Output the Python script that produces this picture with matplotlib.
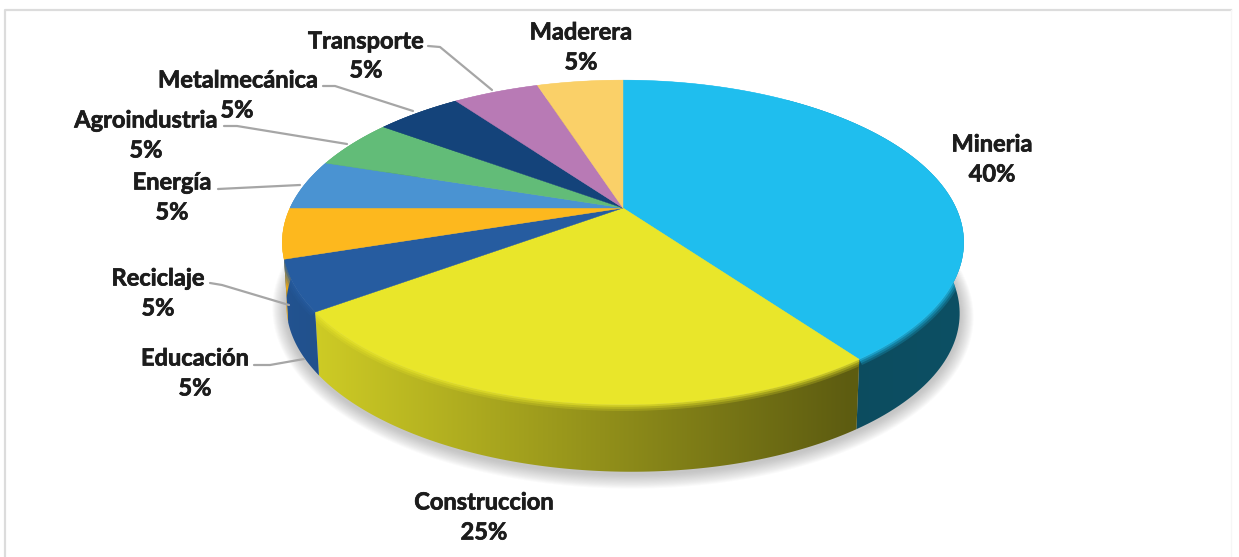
import numpy as np
import matplotlib
matplotlib.use('Agg')
import matplotlib.pyplot as plt
import matplotlib.patheffects as pe
from matplotlib.colors import to_rgb
from matplotlib.patches import Polygon

categories = ['Mineria', 'Construccion', 'Educación', 'Reciclaje', 'Energía',
              'Agroindustria', 'Metalmecánica', 'Transporte', 'Maderera']
values = [40, 25, 5, 5, 5, 5, 5, 5, 5]
colors = ['#1FBEEE', '#E9E62A', '#265CA0', '#FDB81E', '#4A93D2',
          '#62BC78', '#14437A', '#B87AB5', '#FAD068']

# label centres, name line then percent line
name_pos = [(992, 144), (484, 502), (195, 358), (158, 278), (172, 182),
            (146, 120), (238, 80), (366, 41), (581, 32)]
pct_pos = [(992, 174), (484, 532), (195, 388), (158, 308), (172, 212),
           (146, 150), (237, 110), (366, 70), (581, 62)]

leaders = [
    [(254, 365), (270, 365), (304, 359)],
    [(210, 283), (222, 285), (289, 305)],
    [(218, 189), (300, 185)],
    [(224, 126), (237, 126), (347, 144)],
    [(323, 86), (335, 86), (413, 111)],
    [(428, 46), (440, 47), (492, 90)],
]

# pie plane, perspective projection of the unit disc
CX, CY = 623, 208
A, B, P = 333, 155, 0.212


def project(theta):
    u = np.sin(theta)
    v = np.cos(theta)
    d = 1 + P * v
    return CX + A * u / d, CY - B * v / d


def base(x, y):
    # bottom edge of the wall under a point of the rim
    return CX + (x - CX) * 0.988, y + 67 + (x - CX) * 0.012


def shade(x):
    return np.interp(x, [282, 320, 850, 965], [0.90, 0.88, 0.40, 0.42])


fig = plt.figure(figsize=(12.39, 5.57), dpi=100)
ax = fig.add_axes([0, 0, 1, 1])

# chart frame
ax.plot([5, 5, 1231], [557, 9.5, 9.5], color='#dcdcdc', lw=1.6, zorder=1)
ax.plot([1231, 1231], [9.5, 557], color='#f6f6f6', lw=1, zorder=1)

# soft shadow under the pie
t = np.linspace(0, 2 * np.pi, 400)
rx, ry = project(t)
bx, by = base(rx, ry)
for grow in np.linspace(14, 1, 14):
    sx = CX + (bx - CX) * (1 + grow / 340)
    sy = by.mean() + (by - by.mean()) * (1 + grow / 170) + 2
    ax.add_patch(Polygon(np.c_[sx, sy], fc='#707070', ec='none', alpha=0.03, zorder=2))

edges = np.cumsum([0] + values) / sum(values) * 2 * np.pi

# walls, a horizontal gradient clipped to each slice's outline
grid = np.linspace(270, 980, 710)
for i, c in enumerate(colors):
    rgb = np.array(to_rgb(c))
    th = np.linspace(edges[i], edges[i + 1], 120)
    px, py = project(th)
    qx, qy = base(px, py)
    wall = Polygon(np.r_[np.c_[px, py], np.c_[qx, qy][::-1]], fc='none', ec='none',
                   transform=ax.transData)
    ax.add_patch(wall)
    grad = shade(grid)[None, :, None] * rgb[None, None, :]
    im = ax.imshow(grad, extent=(270, 980, 490, 100), aspect='auto', zorder=3,
                   interpolation='bilinear')
    im.set_clip_path(wall)

    # soft bevel along the front rim, kept inside the wall
    for lw, al in [(9, 0.22), (6, 0.3), (3, 0.5)]:
        bevel, = ax.plot(px, py, color=c, lw=lw, alpha=al, zorder=3.5,
                         solid_capstyle='butt')
        bevel.set_clip_path(wall)

# top surface
for i, c in enumerate(colors):
    th = np.linspace(edges[i], edges[i + 1], 120)
    px, py = project(th)
    pts = np.r_[[(CX, CY)], np.c_[px, py]]
    ax.add_patch(Polygon(pts, fc=c, ec=c, lw=0.3, zorder=4))

# leader lines
for line in leaders:
    xs, ys = zip(*line)
    ax.plot(xs, ys, color='#a6a6a6', lw=1.6, zorder=5, solid_capstyle='round')

# labels
thick = [pe.withStroke(linewidth=0.5, foreground='#1c1c1c')]
for name, v, np0, pp0 in zip(categories, values, name_pos, pct_pos):
    ax.text(np0[0], np0[1], name, ha='center', va='center', family='Lato',
            weight='bold', fontsize=17, color='#1c1c1c', zorder=6, path_effects=thick)
    ax.text(pp0[0], pp0[1], f'{v}%', ha='center', va='center', family='Lato',
            weight='bold', fontsize=17, color='#1c1c1c', zorder=6, path_effects=thick)

ax.set_xlim(0, 1239)
ax.set_ylim(557, 0)
ax.axis('off')

fig.savefig('out.png', dpi=100, facecolor='white')
